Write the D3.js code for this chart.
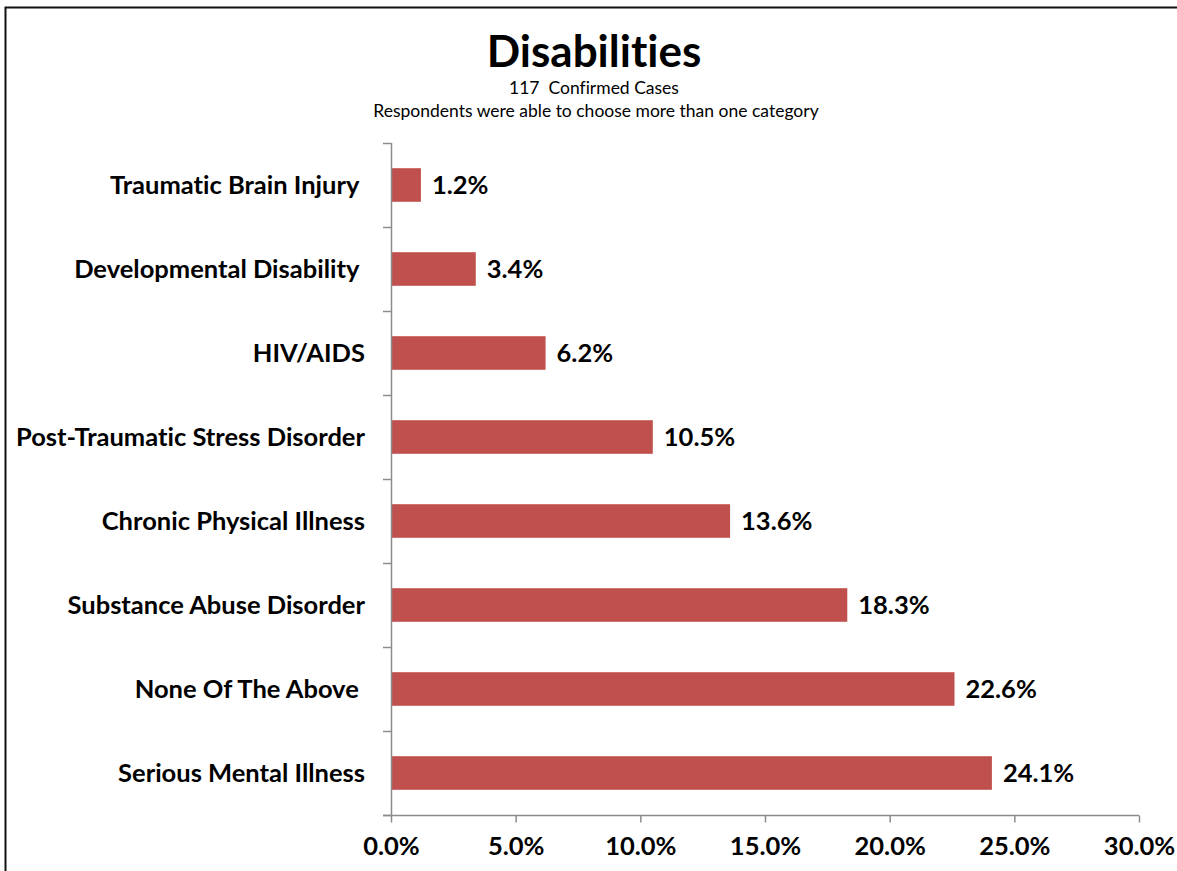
<!DOCTYPE html>
<html>
<head>
<meta charset="utf-8">
<script src="https://cdn.jsdelivr.net/npm/d3@7"></script>
<style>
  html, body { margin: 0; padding: 0; background: #fff; }
  svg { display: block; }
  text { font-family: Lato, "Open Sans", sans-serif; fill: #000; font-variant-ligatures: none; }
</style>
</head>
<body>
<svg id="chart" width="1177" height="871"></svg>
<script>
const categories = [
  "Traumatic Brain Injury ",
  "Developmental Disability ",
  "HIV/AIDS",
  "Post-Traumatic Stress Disorder",
  "Chronic Physical Illness",
  "Substance Abuse Disorder",
  "None Of The Above ",
  "Serious Mental Illness"
];
const values = [1.2, 3.4, 6.2, 10.5, 13.6, 18.3, 22.6, 24.1];
const xTicks = [0, 5, 10, 15, 20, 25, 30];
const titleText = "Disabilities";
const subtitleLines = ["117  Confirmed Cases", "Respondents were able to choose more than one category"];

const svg = d3.select("#chart");
const W = 1177, H = 871;
const margin = { left: 391, right: 1177 - 1139, top: 143, bottom: 871 - 815 };
const barColor = "#C0504D";
const axisColor = "#8c8c8c";
const labelSize = 25.5;

svg.append("rect").attr("width", W).attr("height", H).attr("fill", "#fff");

// Border (left and top edges)
svg.append("path")
  .attr("d", `M5.5,${H} L5.5,7.5 L${W},7.5`)
  .attr("fill", "none").attr("stroke", "#111").attr("stroke-width", 2);

const x = d3.scaleLinear().domain([0, 30]).range([margin.left, W - margin.right]);
const y = d3.scaleBand().domain(categories).range([margin.top, H - margin.bottom]).paddingInner(0.6).paddingOuter(0.3);
const yEdges = d3.scaleLinear().domain([0, categories.length]).range([margin.top, H - margin.bottom]);

// Title
svg.append("text").attr("x", 594).attr("y", 67).attr("text-anchor", "middle")
  .attr("font-size", 44).attr("font-weight", 700).text(titleText);
svg.append("text").attr("x", 594).attr("y", 94).attr("text-anchor", "middle")
  .attr("font-size", 17.5).style("white-space", "pre").text(subtitleLines[0]);
svg.append("text").attr("x", 596).attr("y", 117).attr("text-anchor", "middle")
  .attr("font-size", 17.5).text(subtitleLines[1]);

// Bars
svg.append("g").selectAll("rect").data(values).join("rect")
  .attr("x", x(0))
  .attr("y", (d, i) => y(categories[i]))
  .attr("width", d => x(d) - x(0))
  .attr("height", y.bandwidth())
  .attr("fill", barColor);

// Value labels
svg.append("g").selectAll("text").data(values).join("text")
  .attr("x", d => x(d) + 11)
  .attr("y", (d, i) => y(categories[i]) + y.bandwidth() / 2)
  .attr("dy", "0.36em")
  .attr("font-size", labelSize).attr("font-weight", 700)
  .text(d => d.toFixed(1) + "%");

// Y axis (category edges ticks)
const yAxisG = svg.append("g");
yAxisG.append("line").attr("x1", x(0) + 0.5).attr("x2", x(0) + 0.5)
  .attr("y1", yEdges(0)).attr("y2", yEdges(categories.length))
  .attr("stroke", axisColor).attr("stroke-width", 1.5);
yAxisG.selectAll("line.tick").data(d3.range(categories.length + 1)).join("line")
  .attr("class", "tick")
  .attr("x1", x(0) - 8).attr("x2", x(0))
  .attr("y1", d => yEdges(d) + 0.5).attr("y2", d => yEdges(d) + 0.5)
  .attr("stroke", axisColor).attr("stroke-width", 1.5);
yAxisG.selectAll("text").data(categories).join("text")
  .attr("x", 365)
  .attr("y", d => y(d) + y.bandwidth() / 2)
  .attr("dy", "0.36em")
  .attr("text-anchor", "end")
  .attr("font-size", labelSize).attr("font-weight", 700)
  .style("white-space", "pre")
  .text(d => d);

// X axis
const xAxis = d3.axisBottom(x).tickValues(xTicks).tickSize(7).tickPadding(14)
  .tickFormat(d => d.toFixed(1) + "%");
const xg = svg.append("g").attr("transform", `translate(0,${H - margin.bottom + 0.5})`).call(xAxis);
xg.select(".domain").attr("d", `M${x(0) - 8},0H${x(30)}`).attr("stroke", axisColor).attr("stroke-width", 1.5);
xg.selectAll(".tick line").attr("stroke", axisColor).attr("stroke-width", 1.5);
xg.selectAll(".tick text").attr("font-size", labelSize).attr("font-weight", 700)
  .attr("font-family", "Lato, sans-serif").attr("fill", "#000");
</script>
</body>
</html>
